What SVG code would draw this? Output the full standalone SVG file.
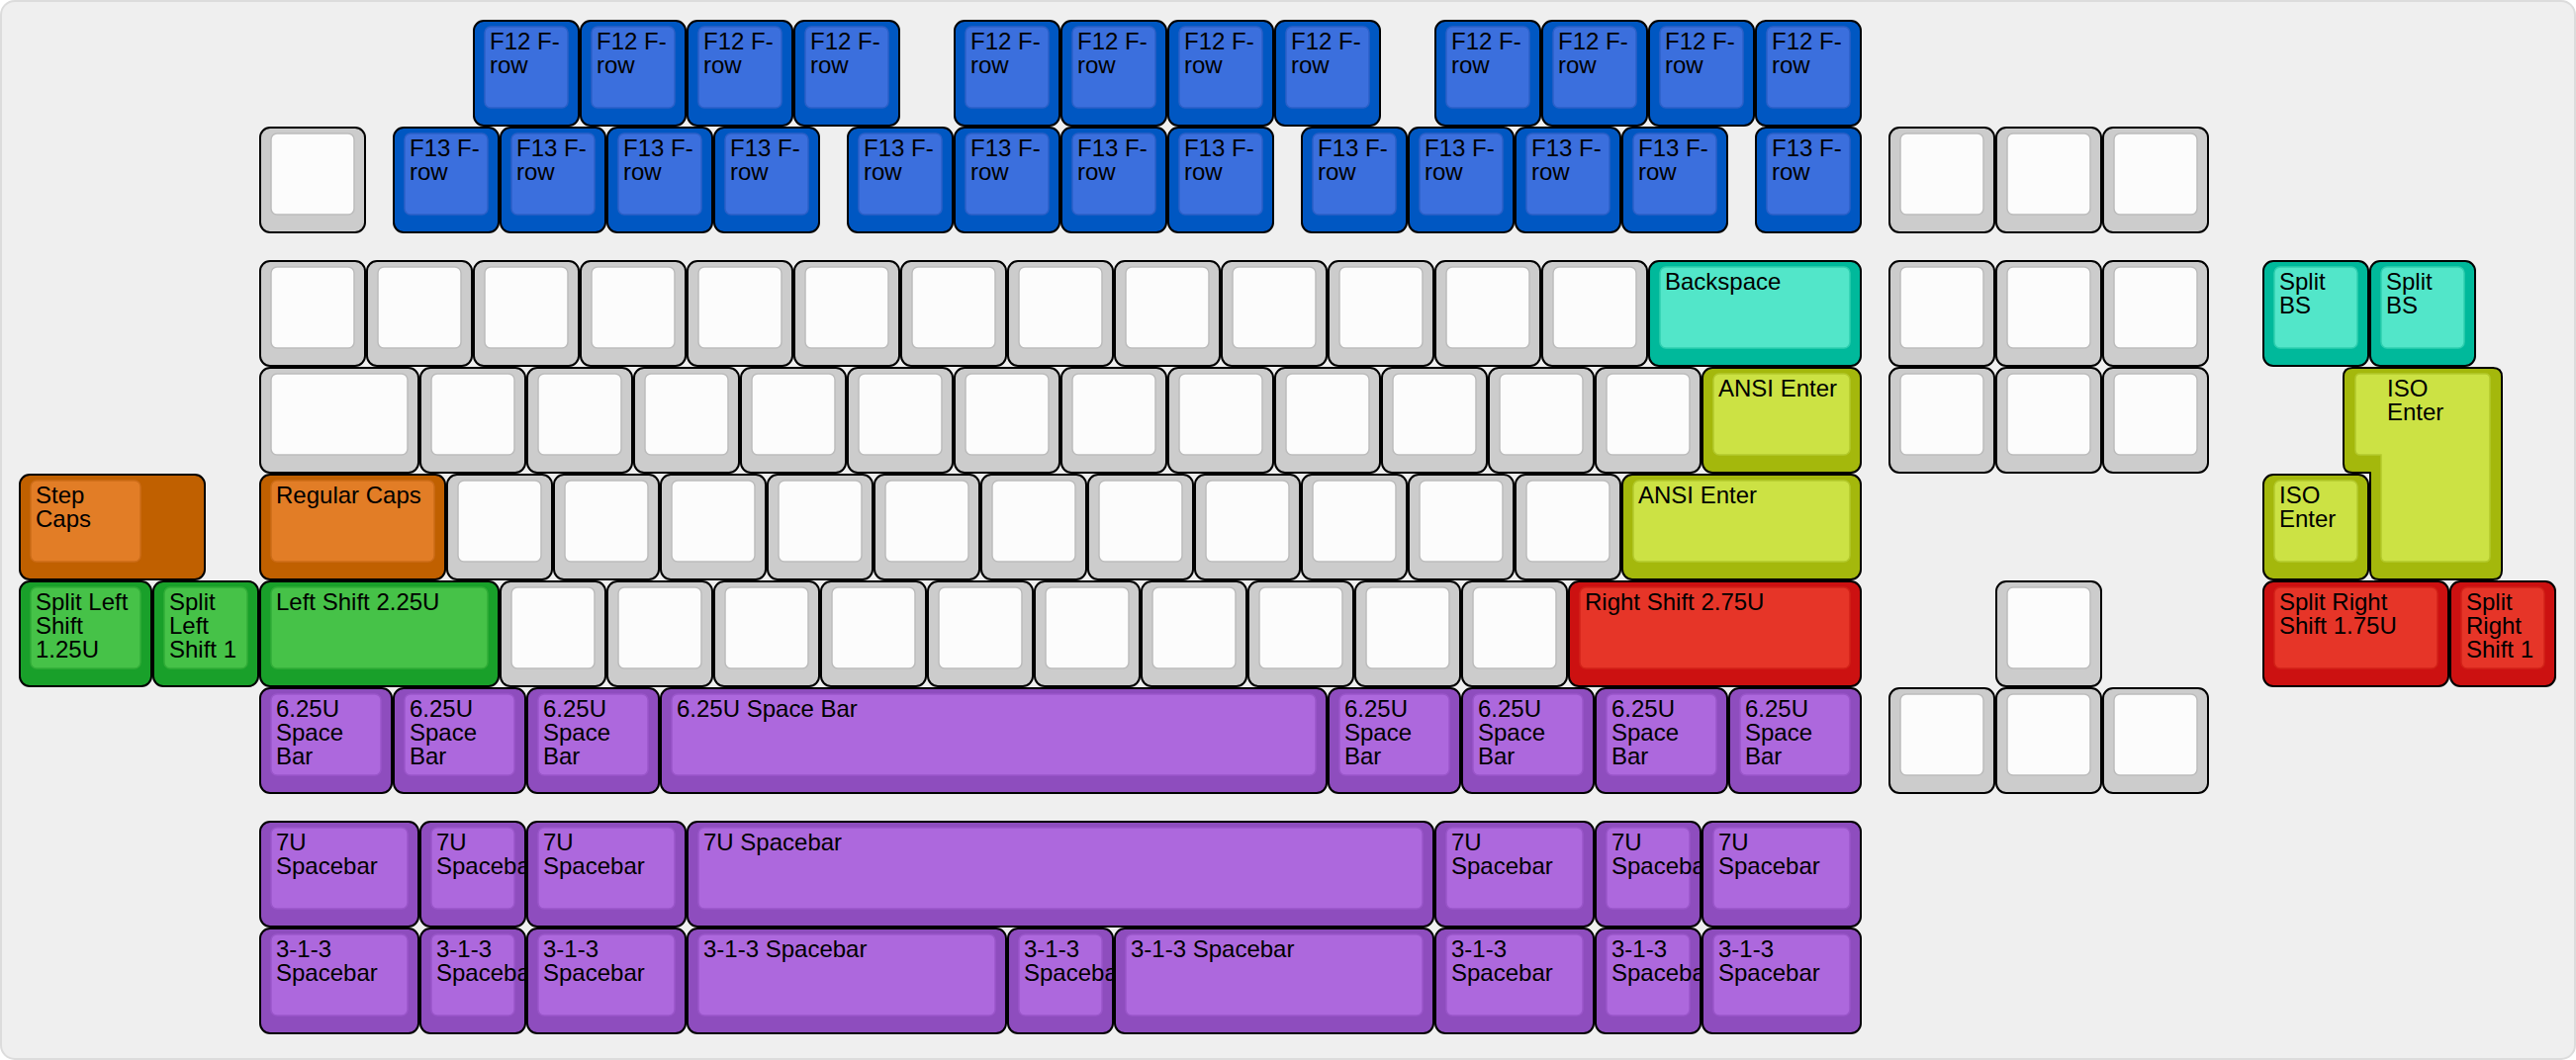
<svg xmlns="http://www.w3.org/2000/svg" width="2604" height="1072" viewBox="0 0 2604 1072">
<style>
.o{stroke:#000;stroke-width:2}
.i{stroke-width:1.5}
text{font-family:"Liberation Sans",Arial,sans-serif;font-size:24px;fill:#000}
.k .o{fill:#cccccc}.k .i{fill:#fcfcfc;stroke:#bcbcbc}
.b .o{fill:#0057c2}.b .i{fill:#3b6fdd;stroke:#2c60c8}
.t .o{fill:#00b99b}.t .i{fill:#52e6c9;stroke:#2fcfb0}
.y .o{fill:#a4b80c}.y .i{fill:#cce244;stroke:#b3c92c}
.r .o{fill:#c06000}.r .i{fill:#e27d26;stroke:#cc6c18}
.g .o{fill:#19a02a}.g .i{fill:#46c248;stroke:#32ad38}
.d .o{fill:#cc1111}.d .i{fill:#e63528;stroke:#d22218}
.p .o{fill:#8e4dbe}.p .i{fill:#ad68dd;stroke:#9a56ca}
</style>
<rect x="1" y="1" width="2602" height="1070" rx="14" fill="#efefef" stroke="#dcdcdc" stroke-width="2"/>
<g id="connectors"/>
<!-- F12 row -->
<g id="f12-1" class="b" transform="translate(478,20)"><rect class="o" x="1" y="1" width="106" height="106" rx="10"/><rect class="i" x="12" y="7" width="84" height="82" rx="6"/><text x="17" y="30">F12 F-<tspan x="17" dy="24">row</tspan></text></g>
<g id="f12-2" class="b" transform="translate(586,20)"><rect class="o" x="1" y="1" width="106" height="106" rx="10"/><rect class="i" x="12" y="7" width="84" height="82" rx="6"/><text x="17" y="30">F12 F-<tspan x="17" dy="24">row</tspan></text></g>
<g id="f12-3" class="b" transform="translate(694,20)"><rect class="o" x="1" y="1" width="106" height="106" rx="10"/><rect class="i" x="12" y="7" width="84" height="82" rx="6"/><text x="17" y="30">F12 F-<tspan x="17" dy="24">row</tspan></text></g>
<g id="f12-4" class="b" transform="translate(802,20)"><rect class="o" x="1" y="1" width="106" height="106" rx="10"/><rect class="i" x="12" y="7" width="84" height="82" rx="6"/><text x="17" y="30">F12 F-<tspan x="17" dy="24">row</tspan></text></g>
<g id="f12-5" class="b" transform="translate(964,20)"><rect class="o" x="1" y="1" width="106" height="106" rx="10"/><rect class="i" x="12" y="7" width="84" height="82" rx="6"/><text x="17" y="30">F12 F-<tspan x="17" dy="24">row</tspan></text></g>
<g id="f12-6" class="b" transform="translate(1072,20)"><rect class="o" x="1" y="1" width="106" height="106" rx="10"/><rect class="i" x="12" y="7" width="84" height="82" rx="6"/><text x="17" y="30">F12 F-<tspan x="17" dy="24">row</tspan></text></g>
<g id="f12-7" class="b" transform="translate(1180,20)"><rect class="o" x="1" y="1" width="106" height="106" rx="10"/><rect class="i" x="12" y="7" width="84" height="82" rx="6"/><text x="17" y="30">F12 F-<tspan x="17" dy="24">row</tspan></text></g>
<g id="f12-8" class="b" transform="translate(1288,20)"><rect class="o" x="1" y="1" width="106" height="106" rx="10"/><rect class="i" x="12" y="7" width="84" height="82" rx="6"/><text x="17" y="30">F12 F-<tspan x="17" dy="24">row</tspan></text></g>
<g id="f12-9" class="b" transform="translate(1450,20)"><rect class="o" x="1" y="1" width="106" height="106" rx="10"/><rect class="i" x="12" y="7" width="84" height="82" rx="6"/><text x="17" y="30">F12 F-<tspan x="17" dy="24">row</tspan></text></g>
<g id="f12-10" class="b" transform="translate(1558,20)"><rect class="o" x="1" y="1" width="106" height="106" rx="10"/><rect class="i" x="12" y="7" width="84" height="82" rx="6"/><text x="17" y="30">F12 F-<tspan x="17" dy="24">row</tspan></text></g>
<g id="f12-11" class="b" transform="translate(1666,20)"><rect class="o" x="1" y="1" width="106" height="106" rx="10"/><rect class="i" x="12" y="7" width="84" height="82" rx="6"/><text x="17" y="30">F12 F-<tspan x="17" dy="24">row</tspan></text></g>
<g id="f12-12" class="b" transform="translate(1774,20)"><rect class="o" x="1" y="1" width="106" height="106" rx="10"/><rect class="i" x="12" y="7" width="84" height="82" rx="6"/><text x="17" y="30">F12 F-<tspan x="17" dy="24">row</tspan></text></g>
<!-- F13 row -->
<g id="esc" class="k" transform="translate(262,128)"><rect class="o" x="1" y="1" width="106" height="106" rx="10"/><rect class="i" x="12" y="7" width="84" height="82" rx="6"/></g>
<g id="f13-1" class="b" transform="translate(397,128)"><rect class="o" x="1" y="1" width="106" height="106" rx="10"/><rect class="i" x="12" y="7" width="84" height="82" rx="6"/><text x="17" y="30">F13 F-<tspan x="17" dy="24">row</tspan></text></g>
<g id="f13-2" class="b" transform="translate(505,128)"><rect class="o" x="1" y="1" width="106" height="106" rx="10"/><rect class="i" x="12" y="7" width="84" height="82" rx="6"/><text x="17" y="30">F13 F-<tspan x="17" dy="24">row</tspan></text></g>
<g id="f13-3" class="b" transform="translate(613,128)"><rect class="o" x="1" y="1" width="106" height="106" rx="10"/><rect class="i" x="12" y="7" width="84" height="82" rx="6"/><text x="17" y="30">F13 F-<tspan x="17" dy="24">row</tspan></text></g>
<g id="f13-4" class="b" transform="translate(721,128)"><rect class="o" x="1" y="1" width="106" height="106" rx="10"/><rect class="i" x="12" y="7" width="84" height="82" rx="6"/><text x="17" y="30">F13 F-<tspan x="17" dy="24">row</tspan></text></g>
<g id="f13-5" class="b" transform="translate(856,128)"><rect class="o" x="1" y="1" width="106" height="106" rx="10"/><rect class="i" x="12" y="7" width="84" height="82" rx="6"/><text x="17" y="30">F13 F-<tspan x="17" dy="24">row</tspan></text></g>
<g id="f13-6" class="b" transform="translate(964,128)"><rect class="o" x="1" y="1" width="106" height="106" rx="10"/><rect class="i" x="12" y="7" width="84" height="82" rx="6"/><text x="17" y="30">F13 F-<tspan x="17" dy="24">row</tspan></text></g>
<g id="f13-7" class="b" transform="translate(1072,128)"><rect class="o" x="1" y="1" width="106" height="106" rx="10"/><rect class="i" x="12" y="7" width="84" height="82" rx="6"/><text x="17" y="30">F13 F-<tspan x="17" dy="24">row</tspan></text></g>
<g id="f13-8" class="b" transform="translate(1180,128)"><rect class="o" x="1" y="1" width="106" height="106" rx="10"/><rect class="i" x="12" y="7" width="84" height="82" rx="6"/><text x="17" y="30">F13 F-<tspan x="17" dy="24">row</tspan></text></g>
<g id="f13-9" class="b" transform="translate(1315,128)"><rect class="o" x="1" y="1" width="106" height="106" rx="10"/><rect class="i" x="12" y="7" width="84" height="82" rx="6"/><text x="17" y="30">F13 F-<tspan x="17" dy="24">row</tspan></text></g>
<g id="f13-10" class="b" transform="translate(1423,128)"><rect class="o" x="1" y="1" width="106" height="106" rx="10"/><rect class="i" x="12" y="7" width="84" height="82" rx="6"/><text x="17" y="30">F13 F-<tspan x="17" dy="24">row</tspan></text></g>
<g id="f13-11" class="b" transform="translate(1531,128)"><rect class="o" x="1" y="1" width="106" height="106" rx="10"/><rect class="i" x="12" y="7" width="84" height="82" rx="6"/><text x="17" y="30">F13 F-<tspan x="17" dy="24">row</tspan></text></g>
<g id="f13-12" class="b" transform="translate(1639,128)"><rect class="o" x="1" y="1" width="106" height="106" rx="10"/><rect class="i" x="12" y="7" width="84" height="82" rx="6"/><text x="17" y="30">F13 F-<tspan x="17" dy="24">row</tspan></text></g>
<g id="f13-13" class="b" transform="translate(1774,128)"><rect class="o" x="1" y="1" width="106" height="106" rx="10"/><rect class="i" x="12" y="7" width="84" height="82" rx="6"/><text x="17" y="30">F13 F-<tspan x="17" dy="24">row</tspan></text></g>
<g id="nav0a" class="k" transform="translate(1909,128)"><rect class="o" x="1" y="1" width="106" height="106" rx="10"/><rect class="i" x="12" y="7" width="84" height="82" rx="6"/></g>
<g id="nav0b" class="k" transform="translate(2017,128)"><rect class="o" x="1" y="1" width="106" height="106" rx="10"/><rect class="i" x="12" y="7" width="84" height="82" rx="6"/></g>
<g id="nav0c" class="k" transform="translate(2125,128)"><rect class="o" x="1" y="1" width="106" height="106" rx="10"/><rect class="i" x="12" y="7" width="84" height="82" rx="6"/></g>
<!-- number row -->
<g id="n0" class="k" transform="translate(262,263)"><rect class="o" x="1" y="1" width="106" height="106" rx="10"/><rect class="i" x="12" y="7" width="84" height="82" rx="6"/></g>
<g id="n1" class="k" transform="translate(370,263)"><rect class="o" x="1" y="1" width="106" height="106" rx="10"/><rect class="i" x="12" y="7" width="84" height="82" rx="6"/></g>
<g id="n2" class="k" transform="translate(478,263)"><rect class="o" x="1" y="1" width="106" height="106" rx="10"/><rect class="i" x="12" y="7" width="84" height="82" rx="6"/></g>
<g id="n3" class="k" transform="translate(586,263)"><rect class="o" x="1" y="1" width="106" height="106" rx="10"/><rect class="i" x="12" y="7" width="84" height="82" rx="6"/></g>
<g id="n4" class="k" transform="translate(694,263)"><rect class="o" x="1" y="1" width="106" height="106" rx="10"/><rect class="i" x="12" y="7" width="84" height="82" rx="6"/></g>
<g id="n5" class="k" transform="translate(802,263)"><rect class="o" x="1" y="1" width="106" height="106" rx="10"/><rect class="i" x="12" y="7" width="84" height="82" rx="6"/></g>
<g id="n6" class="k" transform="translate(910,263)"><rect class="o" x="1" y="1" width="106" height="106" rx="10"/><rect class="i" x="12" y="7" width="84" height="82" rx="6"/></g>
<g id="n7" class="k" transform="translate(1018,263)"><rect class="o" x="1" y="1" width="106" height="106" rx="10"/><rect class="i" x="12" y="7" width="84" height="82" rx="6"/></g>
<g id="n8" class="k" transform="translate(1126,263)"><rect class="o" x="1" y="1" width="106" height="106" rx="10"/><rect class="i" x="12" y="7" width="84" height="82" rx="6"/></g>
<g id="n9" class="k" transform="translate(1234,263)"><rect class="o" x="1" y="1" width="106" height="106" rx="10"/><rect class="i" x="12" y="7" width="84" height="82" rx="6"/></g>
<g id="n10" class="k" transform="translate(1342,263)"><rect class="o" x="1" y="1" width="106" height="106" rx="10"/><rect class="i" x="12" y="7" width="84" height="82" rx="6"/></g>
<g id="n11" class="k" transform="translate(1450,263)"><rect class="o" x="1" y="1" width="106" height="106" rx="10"/><rect class="i" x="12" y="7" width="84" height="82" rx="6"/></g>
<g id="n12" class="k" transform="translate(1558,263)"><rect class="o" x="1" y="1" width="106" height="106" rx="10"/><rect class="i" x="12" y="7" width="84" height="82" rx="6"/></g>
<g id="backspace" class="t" transform="translate(1666,263)"><rect class="o" x="1" y="1" width="214" height="106" rx="10"/><rect class="i" x="12" y="7" width="192" height="82" rx="6"/><text x="17" y="30">Backspace</text></g>
<g id="nav1a" class="k" transform="translate(1909,263)"><rect class="o" x="1" y="1" width="106" height="106" rx="10"/><rect class="i" x="12" y="7" width="84" height="82" rx="6"/></g>
<g id="nav1b" class="k" transform="translate(2017,263)"><rect class="o" x="1" y="1" width="106" height="106" rx="10"/><rect class="i" x="12" y="7" width="84" height="82" rx="6"/></g>
<g id="nav1c" class="k" transform="translate(2125,263)"><rect class="o" x="1" y="1" width="106" height="106" rx="10"/><rect class="i" x="12" y="7" width="84" height="82" rx="6"/></g>
<g id="splitbs1" class="t" transform="translate(2287,263)"><rect class="o" x="1" y="1" width="106" height="106" rx="10"/><rect class="i" x="12" y="7" width="84" height="82" rx="6"/><text x="17" y="30">Split<tspan x="17" dy="24">BS</tspan></text></g>
<g id="splitbs2" class="t" transform="translate(2395,263)"><rect class="o" x="1" y="1" width="106" height="106" rx="10"/><rect class="i" x="12" y="7" width="84" height="82" rx="6"/><text x="17" y="30">Split<tspan x="17" dy="24">BS</tspan></text></g>
<!-- tab row -->
<g id="tab" class="k" transform="translate(262,371)"><rect class="o" x="1" y="1" width="160" height="106" rx="10"/><rect class="i" x="12" y="7" width="138" height="82" rx="6"/></g>
<g id="q1" class="k" transform="translate(424,371)"><rect class="o" x="1" y="1" width="106" height="106" rx="10"/><rect class="i" x="12" y="7" width="84" height="82" rx="6"/></g>
<g id="q2" class="k" transform="translate(532,371)"><rect class="o" x="1" y="1" width="106" height="106" rx="10"/><rect class="i" x="12" y="7" width="84" height="82" rx="6"/></g>
<g id="q3" class="k" transform="translate(640,371)"><rect class="o" x="1" y="1" width="106" height="106" rx="10"/><rect class="i" x="12" y="7" width="84" height="82" rx="6"/></g>
<g id="q4" class="k" transform="translate(748,371)"><rect class="o" x="1" y="1" width="106" height="106" rx="10"/><rect class="i" x="12" y="7" width="84" height="82" rx="6"/></g>
<g id="q5" class="k" transform="translate(856,371)"><rect class="o" x="1" y="1" width="106" height="106" rx="10"/><rect class="i" x="12" y="7" width="84" height="82" rx="6"/></g>
<g id="q6" class="k" transform="translate(964,371)"><rect class="o" x="1" y="1" width="106" height="106" rx="10"/><rect class="i" x="12" y="7" width="84" height="82" rx="6"/></g>
<g id="q7" class="k" transform="translate(1072,371)"><rect class="o" x="1" y="1" width="106" height="106" rx="10"/><rect class="i" x="12" y="7" width="84" height="82" rx="6"/></g>
<g id="q8" class="k" transform="translate(1180,371)"><rect class="o" x="1" y="1" width="106" height="106" rx="10"/><rect class="i" x="12" y="7" width="84" height="82" rx="6"/></g>
<g id="q9" class="k" transform="translate(1288,371)"><rect class="o" x="1" y="1" width="106" height="106" rx="10"/><rect class="i" x="12" y="7" width="84" height="82" rx="6"/></g>
<g id="q10" class="k" transform="translate(1396,371)"><rect class="o" x="1" y="1" width="106" height="106" rx="10"/><rect class="i" x="12" y="7" width="84" height="82" rx="6"/></g>
<g id="q11" class="k" transform="translate(1504,371)"><rect class="o" x="1" y="1" width="106" height="106" rx="10"/><rect class="i" x="12" y="7" width="84" height="82" rx="6"/></g>
<g id="q12" class="k" transform="translate(1612,371)"><rect class="o" x="1" y="1" width="106" height="106" rx="10"/><rect class="i" x="12" y="7" width="84" height="82" rx="6"/></g>
<g id="ansienter1" class="y" transform="translate(1720,371)"><rect class="o" x="1" y="1" width="160" height="106" rx="10"/><rect class="i" x="12" y="7" width="138" height="82" rx="6"/><text x="17" y="30">ANSI Enter</text></g>
<g id="nav2a" class="k" transform="translate(1909,371)"><rect class="o" x="1" y="1" width="106" height="106" rx="10"/><rect class="i" x="12" y="7" width="84" height="82" rx="6"/></g>
<g id="nav2b" class="k" transform="translate(2017,371)"><rect class="o" x="1" y="1" width="106" height="106" rx="10"/><rect class="i" x="12" y="7" width="84" height="82" rx="6"/></g>
<g id="nav2c" class="k" transform="translate(2125,371)"><rect class="o" x="1" y="1" width="106" height="106" rx="10"/><rect class="i" x="12" y="7" width="84" height="82" rx="6"/></g>
<g id="isoenter-big" class="y"><path class="o" stroke-linejoin="round" d="M2378 372 H2520 Q2529 372 2529 381 V577 Q2529 586 2520 586 H2405 Q2396 586 2396 577 V478 H2378 Q2369 478 2369 469 V381 Q2369 372 2378 372 Z"/><path class="i" d="M2386 378 H2512 Q2517 378 2517 383 V563 Q2517 568 2512 568 H2412 Q2407 568 2407 563 V460 H2386 Q2381 460 2381 455 V383 Q2381 378 2386 378 Z"/><text x="2413" y="401">ISO<tspan x="2413" dy="24">Enter</tspan></text></g>
<!-- caps row -->
<g id="stepcaps" class="r" transform="translate(19,479)"><rect class="o" x="1" y="1" width="187" height="106" rx="10"/><rect class="i" x="12" y="7" width="111" height="82" rx="6"/><text x="17" y="30">Step<tspan x="17" dy="24">Caps</tspan></text></g>
<g id="regularcaps" class="r" transform="translate(262,479)"><rect class="o" x="1" y="1" width="187" height="106" rx="10"/><rect class="i" x="12" y="7" width="165" height="82" rx="6"/><text x="17" y="30">Regular Caps</text></g>
<g id="a1" class="k" transform="translate(451,479)"><rect class="o" x="1" y="1" width="106" height="106" rx="10"/><rect class="i" x="12" y="7" width="84" height="82" rx="6"/></g>
<g id="a2" class="k" transform="translate(559,479)"><rect class="o" x="1" y="1" width="106" height="106" rx="10"/><rect class="i" x="12" y="7" width="84" height="82" rx="6"/></g>
<g id="a3" class="k" transform="translate(667,479)"><rect class="o" x="1" y="1" width="106" height="106" rx="10"/><rect class="i" x="12" y="7" width="84" height="82" rx="6"/></g>
<g id="a4" class="k" transform="translate(775,479)"><rect class="o" x="1" y="1" width="106" height="106" rx="10"/><rect class="i" x="12" y="7" width="84" height="82" rx="6"/></g>
<g id="a5" class="k" transform="translate(883,479)"><rect class="o" x="1" y="1" width="106" height="106" rx="10"/><rect class="i" x="12" y="7" width="84" height="82" rx="6"/></g>
<g id="a6" class="k" transform="translate(991,479)"><rect class="o" x="1" y="1" width="106" height="106" rx="10"/><rect class="i" x="12" y="7" width="84" height="82" rx="6"/></g>
<g id="a7" class="k" transform="translate(1099,479)"><rect class="o" x="1" y="1" width="106" height="106" rx="10"/><rect class="i" x="12" y="7" width="84" height="82" rx="6"/></g>
<g id="a8" class="k" transform="translate(1207,479)"><rect class="o" x="1" y="1" width="106" height="106" rx="10"/><rect class="i" x="12" y="7" width="84" height="82" rx="6"/></g>
<g id="a9" class="k" transform="translate(1315,479)"><rect class="o" x="1" y="1" width="106" height="106" rx="10"/><rect class="i" x="12" y="7" width="84" height="82" rx="6"/></g>
<g id="a10" class="k" transform="translate(1423,479)"><rect class="o" x="1" y="1" width="106" height="106" rx="10"/><rect class="i" x="12" y="7" width="84" height="82" rx="6"/></g>
<g id="a11" class="k" transform="translate(1531,479)"><rect class="o" x="1" y="1" width="106" height="106" rx="10"/><rect class="i" x="12" y="7" width="84" height="82" rx="6"/></g>
<g id="ansienter2" class="y" transform="translate(1639,479)"><rect class="o" x="1" y="1" width="241" height="106" rx="10"/><rect class="i" x="12" y="7" width="219" height="82" rx="6"/><text x="17" y="30">ANSI Enter</text></g>
<g id="isoenter-small" class="y" transform="translate(2287,479)"><rect class="o" x="1" y="1" width="106" height="106" rx="10"/><rect class="i" x="12" y="7" width="84" height="82" rx="6"/><text x="17" y="30">ISO<tspan x="17" dy="24">Enter</tspan></text></g>
<!-- shift row -->
<g id="splitlshift125" class="g" transform="translate(19,587)"><rect class="o" x="1" y="1" width="133" height="106" rx="10"/><rect class="i" x="12" y="7" width="111" height="82" rx="6"/><text x="17" y="30">Split Left<tspan x="17" dy="24">Shift</tspan><tspan x="17" dy="24">1.25U</tspan></text></g>
<g id="splitlshift1" class="g" transform="translate(154,587)"><rect class="o" x="1" y="1" width="106" height="106" rx="10"/><rect class="i" x="12" y="7" width="84" height="82" rx="6"/><text x="17" y="30">Split<tspan x="17" dy="24">Left</tspan><tspan x="17" dy="24">Shift 1</tspan></text></g>
<g id="lshift" class="g" transform="translate(262,587)"><rect class="o" x="1" y="1" width="241" height="106" rx="10"/><rect class="i" x="12" y="7" width="219" height="82" rx="6"/><text x="17" y="30">Left Shift 2.25U</text></g>
<g id="z1" class="k" transform="translate(505,587)"><rect class="o" x="1" y="1" width="106" height="106" rx="10"/><rect class="i" x="12" y="7" width="84" height="82" rx="6"/></g>
<g id="z2" class="k" transform="translate(613,587)"><rect class="o" x="1" y="1" width="106" height="106" rx="10"/><rect class="i" x="12" y="7" width="84" height="82" rx="6"/></g>
<g id="z3" class="k" transform="translate(721,587)"><rect class="o" x="1" y="1" width="106" height="106" rx="10"/><rect class="i" x="12" y="7" width="84" height="82" rx="6"/></g>
<g id="z4" class="k" transform="translate(829,587)"><rect class="o" x="1" y="1" width="106" height="106" rx="10"/><rect class="i" x="12" y="7" width="84" height="82" rx="6"/></g>
<g id="z5" class="k" transform="translate(937,587)"><rect class="o" x="1" y="1" width="106" height="106" rx="10"/><rect class="i" x="12" y="7" width="84" height="82" rx="6"/></g>
<g id="z6" class="k" transform="translate(1045,587)"><rect class="o" x="1" y="1" width="106" height="106" rx="10"/><rect class="i" x="12" y="7" width="84" height="82" rx="6"/></g>
<g id="z7" class="k" transform="translate(1153,587)"><rect class="o" x="1" y="1" width="106" height="106" rx="10"/><rect class="i" x="12" y="7" width="84" height="82" rx="6"/></g>
<g id="z8" class="k" transform="translate(1261,587)"><rect class="o" x="1" y="1" width="106" height="106" rx="10"/><rect class="i" x="12" y="7" width="84" height="82" rx="6"/></g>
<g id="z9" class="k" transform="translate(1369,587)"><rect class="o" x="1" y="1" width="106" height="106" rx="10"/><rect class="i" x="12" y="7" width="84" height="82" rx="6"/></g>
<g id="z10" class="k" transform="translate(1477,587)"><rect class="o" x="1" y="1" width="106" height="106" rx="10"/><rect class="i" x="12" y="7" width="84" height="82" rx="6"/></g>
<g id="rshift" class="d" transform="translate(1585,587)"><rect class="o" x="1" y="1" width="295" height="106" rx="10"/><rect class="i" x="12" y="7" width="273" height="82" rx="6"/><text x="17" y="30">Right Shift 2.75U</text></g>
<g id="up" class="k" transform="translate(2017,587)"><rect class="o" x="1" y="1" width="106" height="106" rx="10"/><rect class="i" x="12" y="7" width="84" height="82" rx="6"/></g>
<g id="splitrshift175" class="d" transform="translate(2287,587)"><rect class="o" x="1" y="1" width="187" height="106" rx="10"/><rect class="i" x="12" y="7" width="165" height="82" rx="6"/><text x="17" y="30">Split Right<tspan x="17" dy="24">Shift 1.75U</tspan></text></g>
<g id="splitrshift1" class="d" transform="translate(2476,587)"><rect class="o" x="1" y="1" width="106" height="106" rx="10"/><rect class="i" x="12" y="7" width="84" height="82" rx="6"/><text x="17" y="30">Split<tspan x="17" dy="24">Right</tspan><tspan x="17" dy="24">Shift 1</tspan></text></g>
<!-- 6.25 row -->
<g id="s625-1" class="p" transform="translate(262,695)"><rect class="o" x="1" y="1" width="133" height="106" rx="10"/><rect class="i" x="12" y="7" width="111" height="82" rx="6"/><text x="17" y="30">6.25U<tspan x="17" dy="24">Space</tspan><tspan x="17" dy="24">Bar</tspan></text></g>
<g id="s625-2" class="p" transform="translate(397,695)"><rect class="o" x="1" y="1" width="133" height="106" rx="10"/><rect class="i" x="12" y="7" width="111" height="82" rx="6"/><text x="17" y="30">6.25U<tspan x="17" dy="24">Space</tspan><tspan x="17" dy="24">Bar</tspan></text></g>
<g id="s625-3" class="p" transform="translate(532,695)"><rect class="o" x="1" y="1" width="133" height="106" rx="10"/><rect class="i" x="12" y="7" width="111" height="82" rx="6"/><text x="17" y="30">6.25U<tspan x="17" dy="24">Space</tspan><tspan x="17" dy="24">Bar</tspan></text></g>
<g id="s625-main" class="p" transform="translate(667,695)"><rect class="o" x="1" y="1" width="673" height="106" rx="10"/><rect class="i" x="12" y="7" width="651" height="82" rx="6"/><text x="17" y="30">6.25U Space Bar</text></g>
<g id="s625-4" class="p" transform="translate(1342,695)"><rect class="o" x="1" y="1" width="133" height="106" rx="10"/><rect class="i" x="12" y="7" width="111" height="82" rx="6"/><text x="17" y="30">6.25U<tspan x="17" dy="24">Space</tspan><tspan x="17" dy="24">Bar</tspan></text></g>
<g id="s625-5" class="p" transform="translate(1477,695)"><rect class="o" x="1" y="1" width="133" height="106" rx="10"/><rect class="i" x="12" y="7" width="111" height="82" rx="6"/><text x="17" y="30">6.25U<tspan x="17" dy="24">Space</tspan><tspan x="17" dy="24">Bar</tspan></text></g>
<g id="s625-6" class="p" transform="translate(1612,695)"><rect class="o" x="1" y="1" width="133" height="106" rx="10"/><rect class="i" x="12" y="7" width="111" height="82" rx="6"/><text x="17" y="30">6.25U<tspan x="17" dy="24">Space</tspan><tspan x="17" dy="24">Bar</tspan></text></g>
<g id="s625-7" class="p" transform="translate(1747,695)"><rect class="o" x="1" y="1" width="133" height="106" rx="10"/><rect class="i" x="12" y="7" width="111" height="82" rx="6"/><text x="17" y="30">6.25U<tspan x="17" dy="24">Space</tspan><tspan x="17" dy="24">Bar</tspan></text></g>
<g id="nav3a" class="k" transform="translate(1909,695)"><rect class="o" x="1" y="1" width="106" height="106" rx="10"/><rect class="i" x="12" y="7" width="84" height="82" rx="6"/></g>
<g id="nav3b" class="k" transform="translate(2017,695)"><rect class="o" x="1" y="1" width="106" height="106" rx="10"/><rect class="i" x="12" y="7" width="84" height="82" rx="6"/></g>
<g id="nav3c" class="k" transform="translate(2125,695)"><rect class="o" x="1" y="1" width="106" height="106" rx="10"/><rect class="i" x="12" y="7" width="84" height="82" rx="6"/></g>
<!-- 7U row -->
<g id="s7-1" class="p" transform="translate(262,830)"><rect class="o" x="1" y="1" width="160" height="106" rx="10"/><rect class="i" x="12" y="7" width="138" height="82" rx="6"/><text x="17" y="30">7U<tspan x="17" dy="24">Spacebar</tspan></text></g>
<g id="s7-2" class="p" transform="translate(424,830)"><rect class="o" x="1" y="1" width="106" height="106" rx="10"/><rect class="i" x="12" y="7" width="84" height="82" rx="6"/><text x="17" y="30">7U<tspan x="17" dy="24">Spaceba</tspan></text></g>
<g id="s7-3" class="p" transform="translate(532,830)"><rect class="o" x="1" y="1" width="160" height="106" rx="10"/><rect class="i" x="12" y="7" width="138" height="82" rx="6"/><text x="17" y="30">7U<tspan x="17" dy="24">Spacebar</tspan></text></g>
<g id="s7-main" class="p" transform="translate(694,830)"><rect class="o" x="1" y="1" width="754" height="106" rx="10"/><rect class="i" x="12" y="7" width="732" height="82" rx="6"/><text x="17" y="30">7U Spacebar</text></g>
<g id="s7-4" class="p" transform="translate(1450,830)"><rect class="o" x="1" y="1" width="160" height="106" rx="10"/><rect class="i" x="12" y="7" width="138" height="82" rx="6"/><text x="17" y="30">7U<tspan x="17" dy="24">Spacebar</tspan></text></g>
<g id="s7-5" class="p" transform="translate(1612,830)"><rect class="o" x="1" y="1" width="106" height="106" rx="10"/><rect class="i" x="12" y="7" width="84" height="82" rx="6"/><text x="17" y="30">7U<tspan x="17" dy="24">Spaceba</tspan></text></g>
<g id="s7-6" class="p" transform="translate(1720,830)"><rect class="o" x="1" y="1" width="160" height="106" rx="10"/><rect class="i" x="12" y="7" width="138" height="82" rx="6"/><text x="17" y="30">7U<tspan x="17" dy="24">Spacebar</tspan></text></g>
<!-- 3-1-3 row -->
<g id="s313-1" class="p" transform="translate(262,938)"><rect class="o" x="1" y="1" width="160" height="106" rx="10"/><rect class="i" x="12" y="7" width="138" height="82" rx="6"/><text x="17" y="30">3-1-3<tspan x="17" dy="24">Spacebar</tspan></text></g>
<g id="s313-2" class="p" transform="translate(424,938)"><rect class="o" x="1" y="1" width="106" height="106" rx="10"/><rect class="i" x="12" y="7" width="84" height="82" rx="6"/><text x="17" y="30">3-1-3<tspan x="17" dy="24">Spaceba</tspan></text></g>
<g id="s313-3" class="p" transform="translate(532,938)"><rect class="o" x="1" y="1" width="160" height="106" rx="10"/><rect class="i" x="12" y="7" width="138" height="82" rx="6"/><text x="17" y="30">3-1-3<tspan x="17" dy="24">Spacebar</tspan></text></g>
<g id="s313-left" class="p" transform="translate(694,938)"><rect class="o" x="1" y="1" width="322" height="106" rx="10"/><rect class="i" x="12" y="7" width="300" height="82" rx="6"/><text x="17" y="30">3-1-3 Spacebar</text></g>
<g id="s313-mid" class="p" transform="translate(1018,938)"><rect class="o" x="1" y="1" width="106" height="106" rx="10"/><rect class="i" x="12" y="7" width="84" height="82" rx="6"/><text x="17" y="30">3-1-3<tspan x="17" dy="24">Spaceba</tspan></text></g>
<g id="s313-right" class="p" transform="translate(1126,938)"><rect class="o" x="1" y="1" width="322" height="106" rx="10"/><rect class="i" x="12" y="7" width="300" height="82" rx="6"/><text x="17" y="30">3-1-3 Spacebar</text></g>
<g id="s313-4" class="p" transform="translate(1450,938)"><rect class="o" x="1" y="1" width="160" height="106" rx="10"/><rect class="i" x="12" y="7" width="138" height="82" rx="6"/><text x="17" y="30">3-1-3<tspan x="17" dy="24">Spacebar</tspan></text></g>
<g id="s313-5" class="p" transform="translate(1612,938)"><rect class="o" x="1" y="1" width="106" height="106" rx="10"/><rect class="i" x="12" y="7" width="84" height="82" rx="6"/><text x="17" y="30">3-1-3<tspan x="17" dy="24">Spaceba</tspan></text></g>
<g id="s313-6" class="p" transform="translate(1720,938)"><rect class="o" x="1" y="1" width="160" height="106" rx="10"/><rect class="i" x="12" y="7" width="138" height="82" rx="6"/><text x="17" y="30">3-1-3<tspan x="17" dy="24">Spacebar</tspan></text></g>
</svg>
